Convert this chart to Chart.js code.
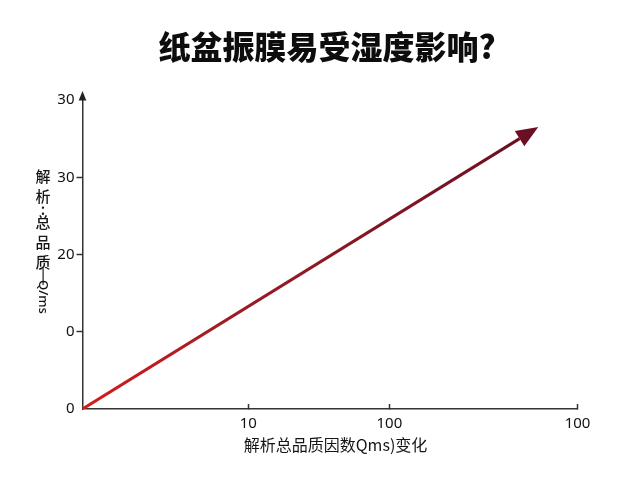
<!DOCTYPE html>
<html><head><meta charset="utf-8">
<script src="https://cdn.jsdelivr.net/npm/chart.js@4.4.1/dist/chart.umd.min.js"></script>
<style>html,body{margin:0;padding:0;background:#fff;}#wrap{width:640px;height:480px;position:relative;}</style>
</head><body><div id="wrap"><canvas id="c"></canvas></div>
<script>
const chartTitle = '纸盆振膜易受湿度影响?';
const xAxisTitle = '解析总品质因数Qms)变化';
const yTitleUpright = ['解','析',':','总','品','质','|'];
const yTitleRotated = 'Q/ms';
const xTickValues = [33.5, 62, 100];
const xTickLabels = ['10', '100', '100'];
const yTickLabels = ['0', '0', '20', '30', '30'];
const lineX = [0, 88.3];
const lineY = [0, 3.5];

const FONT = '"Noto Sans", "Noto Sans CJK SC", sans-serif';
const CJK = '"Noto Sans CJK SC", "Noto Sans", sans-serif';

const deco = {
  id: 'deco',
  afterDraw(chart) {
    const { ctx, chartArea: a } = chart;
    ctx.save();
    // title
    ctx.fillStyle = '#0d0d0d';
    ctx.font = '900 32px ' + CJK;
    ctx.textAlign = 'center';
    ctx.textBaseline = 'middle';
    ctx.fillText(chartTitle, 327, 47);
    // x title
    ctx.font = '16px ' + CJK;
    ctx.fillStyle = '#151515';
    ctx.fillText(xAxisTitle, 335.5, 445);
    // y title (vertical)
    ctx.font = '500 15px ' + CJK;
    let cy = 166;
    yTitleUpright.forEach(ch => {
      const adv = /[\u4e00-\u9fff]/.test(ch) ? 20 : 6;
      ctx.fillText(ch, 43, cy + adv / 2);
      cy += adv;
    });
    ctx.save();
    ctx.translate(43, cy + 2);
    ctx.rotate(Math.PI / 2);
    ctx.font = '500 13px ' + FONT;
    ctx.textAlign = 'left';
    ctx.fillText(yTitleRotated, 0, 0);
    ctx.restore();
    // y-axis arrow
    ctx.fillStyle = '#222';
    ctx.beginPath();
    ctx.moveTo(a.left, a.top - 9);
    ctx.lineTo(a.left - 3.8, a.top + 0.5);
    ctx.lineTo(a.left + 3.8, a.top + 0.5);
    ctx.closePath();
    ctx.fill();
    // data line arrowhead
    const pts = chart.getDatasetMeta(0).data;
    const p0 = pts[pts.length - 2], p1 = pts[pts.length - 1];
    const ang = Math.atan2(p1.y - p0.y, p1.x - p0.x);
    const L = 22, W = 9;
    const tx = p1.x + L * Math.cos(ang), ty = p1.y + L * Math.sin(ang);
    ctx.fillStyle = '#6b1022';
    ctx.beginPath();
    ctx.moveTo(tx, ty);
    ctx.lineTo(p1.x - W * Math.sin(ang), p1.y + W * Math.cos(ang));
    ctx.lineTo(p1.x + W * Math.sin(ang), p1.y - W * Math.cos(ang));
    ctx.closePath();
    ctx.fill();
    ctx.restore();
  }
};

new Chart(document.getElementById('c'), {
  type: 'line',
  data: {
    datasets: [{
      data: lineX.map((x, i) => ({ x: x, y: lineY[i] })),
      borderWidth: 3,
      pointRadius: 0,
      tension: 0,
      fill: false,
      borderCapStyle: 'butt',
      borderColor: (c) => {
        const chart = c.chart;
        if (!chart.chartArea) return '#a01818';
        const xs = chart.scales.x;
        const g = chart.ctx.createLinearGradient(xs.getPixelForValue(lineX[0]), 0, xs.getPixelForValue(lineX[lineX.length - 1]), 0);
        g.addColorStop(0, '#d81b1b');
        g.addColorStop(0.35, '#9a1c26');
        g.addColorStop(1, '#6b1022');
        return g;
      }
    }]
  },
  options: {
    responsive: true,
    maintainAspectRatio: false,
    animation: false,
    layout: { padding: { top: 100, bottom: 41, left: 42.5, right: 62.5 } },
    plugins: { legend: { display: false }, title: { display: false }, tooltip: { enabled: false } },
    scales: {
      x: {
        type: 'linear', min: 0, max: 100,
        afterBuildTicks: s => { s.ticks = xTickValues.map(v => ({ value: v })); },
        ticks: { callback: (v, i) => xTickLabels[i], font: { size: 15, family: FONT }, color: '#111', padding: 11, maxRotation: 0, autoSkip: false },
        grid: { drawOnChartArea: false, drawTicks: true, tickLength: -5, tickColor: '#333', tickWidth: 1.5 },
        border: { display: true, color: '#333', width: 1.5 },
        afterFit: s => { s.height = 30; s.paddingLeft = 0; s.paddingRight = 0; }
      },
      y: {
        type: 'linear', min: 0, max: 4,
        ticks: { stepSize: 1, callback: (v, i) => yTickLabels[i], font: { size: 15, family: FONT }, color: '#111', padding: 2 },
        grid: { drawOnChartArea: false, drawTicks: true, tickLength: 6, tickWidth: 1.5,
          tickColor: c => (c.index === 0 || c.index === 4) ? 'rgba(0,0,0,0)' : '#333' },
        border: { display: true, color: '#333', width: 1.5 },
        afterFit: s => { s.width = 40; s.paddingTop = 0; s.paddingBottom = 0; }
      }
    }
  },
  plugins: [deco]
});
</script>
</body></html>
